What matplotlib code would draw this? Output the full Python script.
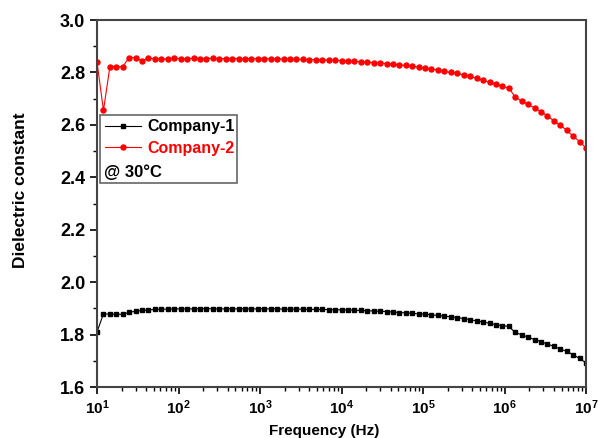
import math
import matplotlib
matplotlib.use('Agg')
import matplotlib.pyplot as plt
from matplotlib.ticker import FuncFormatter, LogLocator, MultipleLocator
from matplotlib.patches import Rectangle

plt.rcParams['font.family'] = ['Liberation Sans', 'DejaVu Sans']
plt.rcParams['font.weight'] = 'bold'
plt.rcParams['mathtext.fontset'] = 'custom'
plt.rcParams['mathtext.rm'] = 'Liberation Sans:bold'
plt.rcParams['mathtext.bf'] = 'Liberation Sans:bold'
plt.rcParams['mathtext.it'] = 'Liberation Sans:bold'

# frequency sweep (Hz)
freq = [10, 12.0, 14.4, 17.2, 20.7, 24.8, 29.8, 35.7, 42.8, 51.3, 61.6, 73.9, 88.6,
        106, 127, 153, 183, 220, 264, 316, 379, 455, 546, 654, 785, 942,
        1129, 1354, 1624, 1948, 2336, 2802, 3360, 4030, 4833, 5796, 6952, 8338,
        1.0e4, 1.20e4, 1.44e4, 1.72e4, 2.07e4, 2.48e4, 2.98e4, 3.57e4, 4.28e4, 5.13e4,
        6.16e4, 7.39e4, 8.86e4, 1.06e5, 1.27e5, 1.53e5, 1.83e5, 2.20e5, 2.64e5, 3.16e5,
        3.79e5, 4.55e5, 5.46e5, 6.54e5, 7.85e5, 9.42e5, 1.129e6, 1.354e6, 1.624e6,
        1.948e6, 2.336e6, 2.802e6, 3.360e6, 4.030e6, 4.833e6, 5.796e6, 6.952e6, 8.338e6, 1.0e7]

company1 = [1.810, 1.879, 1.878, 1.878, 1.877, 1.885, 1.889, 1.892, 1.894, 1.896, 1.897, 1.897, 1.898,
            1.898, 1.898, 1.898, 1.898, 1.899, 1.898, 1.898, 1.898, 1.898, 1.898, 1.898, 1.898, 1.898,
            1.898, 1.898, 1.898, 1.897, 1.897, 1.897, 1.897, 1.896, 1.896, 1.896, 1.895, 1.895,
            1.894, 1.894, 1.893, 1.892, 1.891, 1.890, 1.889, 1.888, 1.886, 1.884, 1.883,
            1.881, 1.879, 1.878, 1.875, 1.873, 1.870, 1.868, 1.865, 1.861, 1.857,
            1.852, 1.848, 1.843, 1.838, 1.834, 1.831, 1.808, 1.799, 1.790, 1.781,
            1.773, 1.764, 1.755, 1.745, 1.736, 1.723, 1.709, 1.692]

company2 = [2.840, 2.655, 2.822, 2.822, 2.822, 2.857, 2.857, 2.844, 2.856, 2.852, 2.852, 2.852, 2.855,
            2.853, 2.853, 2.854, 2.853, 2.853, 2.854, 2.853, 2.853, 2.853, 2.853, 2.853, 2.853, 2.852,
            2.852, 2.852, 2.852, 2.851, 2.851, 2.850, 2.850, 2.849, 2.849, 2.848, 2.847, 2.846,
            2.845, 2.843, 2.842, 2.841, 2.839, 2.837, 2.836, 2.834, 2.832, 2.829, 2.827,
            2.824, 2.820, 2.816, 2.813, 2.809, 2.804, 2.800, 2.797, 2.790, 2.785,
            2.778, 2.770, 2.762, 2.755, 2.748, 2.740, 2.706, 2.691, 2.678, 2.665,
            2.650, 2.634, 2.615, 2.599, 2.579, 2.557, 2.536, 2.512]

fig = plt.figure(figsize=(5.98, 4.38), dpi=100)
ax = fig.add_axes([0.1622, 0.1164, 0.8178, 0.8379])

l1, = ax.plot(freq, company1, color='black', marker='s', markersize=3.0, linewidth=0.8,
              label='Company-1')
l2, = ax.plot(freq, company2, color='red', marker='o', markersize=3.6, linewidth=0.8,
              label='Company-2')

ax.set_xscale('log')
ax.set_xlim(10, 1e7)
ax.set_ylim(1.6, 3.0)
ax.yaxis.set_major_locator(MultipleLocator(0.2))
ax.yaxis.set_minor_locator(MultipleLocator(0.1))
ax.yaxis.set_major_formatter(FuncFormatter(lambda v, p: f'{v:.1f}'))
ax.xaxis.set_major_locator(LogLocator(base=10, numticks=10))
ax.xaxis.set_minor_locator(LogLocator(base=10, subs=range(2, 10), numticks=20))
ax.xaxis.set_major_formatter(FuncFormatter(lambda v, p: r'$\mathbf{10^{%d}}$' % round(math.log10(v))))

for s in ax.spines.values():
    s.set_linewidth(1.5)
    s.set_color('#444444')
ax.tick_params(which='major', direction='out', length=5, width=1.2, colors='black')
ax.tick_params(axis='y', labelsize=13)
ax.tick_params(axis='x', labelsize=11)
ax.tick_params(which='minor', direction='out', length=3, width=1.0)
ax.tick_params(top=False, right=False, which='both')

ax.set_xlabel('Frequency (Hz)', fontsize=11, fontweight='bold')
ax.xaxis.set_label_coords(0.464, -0.1)
ax.set_ylabel('Dielectric constant', fontsize=12.5, fontweight='bold')
ax.yaxis.set_label_coords(-0.142, 0.537)

# legend box with temperature note
ax.add_patch(Rectangle((0.006, 0.555), 0.28, 0.186, transform=ax.transAxes,
                       facecolor='white', edgecolor='#666666', linewidth=1.2, zorder=5))
leg = ax.legend(handles=[l1, l2], loc='upper left', bbox_to_anchor=(0.006, 0.743),
                frameon=False, fontsize=11.5, handlelength=2.3, handletextpad=0.4,
                borderaxespad=0.0, borderpad=0.3, labelspacing=0.4)
leg.set_zorder(6)
for t, c in zip(leg.get_texts(), ['black', 'red']):
    t.set_color(c)
    t.set_fontweight('bold')
ax.text(0.014, 0.585, '@ 30°C', transform=ax.transAxes, fontsize=12,
        fontweight='bold', va='center', ha='left', zorder=7)

fig.savefig('out.png', dpi=100)
